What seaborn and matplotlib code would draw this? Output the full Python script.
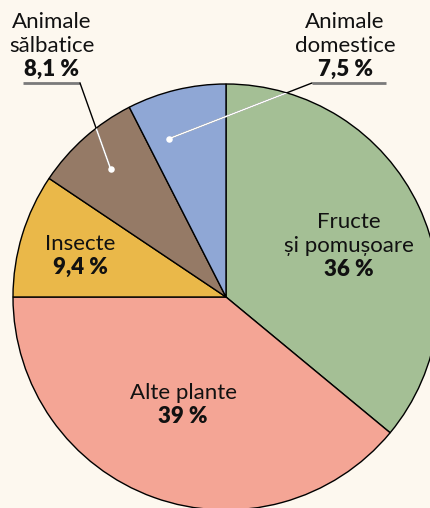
import numpy as np
import matplotlib
matplotlib.use("Agg")
import matplotlib.pyplot as plt
import seaborn as sns
from matplotlib.patches import Circle

# Diet composition shares (percent), clockwise from 12 o'clock
categories = ["Fructe\nși pomușoare", "Alte plante", "Insecte",
              "Animale\nsălbatice", "Animale\ndomestice"]
values = [36, 39, 9.4, 8.1, 7.5]
value_labels = ["36 %", "39 %", "9,4 %", "8,1 %", "7,5 %"]
colors = ["#A4BF95", "#F4A595", "#EAB849", "#957A66", "#8FA7D5"]

BG = "#FDF8EF"
W, H = 430, 508

sns.set_theme(style="white")
plt.rcParams["font.family"] = ["Lato", "DejaVu Sans"]

fig = plt.figure(figsize=(W / 100, H / 100), dpi=100, facecolor=BG)
ax = fig.add_axes([0, 0, 1, 1])
ax.set_facecolor(BG)

cx, cy, R = 226, H - 297, 213
wedges, _ = ax.pie(values, colors=colors, startangle=90, counterclock=False,
                   center=(cx, cy), radius=R,
                   wedgeprops=dict(edgecolor="black", linewidth=1.0))
ax.set_xlim(0, W)
ax.set_ylim(0, H)
ax.set_aspect("auto")
ax.axis("off")

FS = 16

def two_line(x, y, name, val, gap=24):
    lines = name.split("\n")
    for i, ln in enumerate(lines):
        ax.text(x, y - i * gap, ln, ha="center", va="baseline", fontsize=FS, color="#111111")
    ax.text(x, y - len(lines) * gap, val, ha="center", va="baseline",
            fontsize=FS, fontweight="heavy", color="#111111")

# inside labels (baseline positions)
two_line(349, H - 228, categories[0], value_labels[0])
two_line(183, H - 399, categories[1], value_labels[1])
two_line(80, H - 250, categories[2], value_labels[2])
# outside labels
two_line(52, H - 28, categories[3], value_labels[3])
two_line(345, H - 28, categories[4], value_labels[4])

# leader lines: underline, then a connector into the slice ending in a white dot
leaders = [
    # (underline x0, x1, anchor x, angle deg, radius fraction)
    (23, 80, 80, 132.0, 0.81),
    (312, 386, 312, 109.7, 0.79),
]
uy = H - 83
for x0, x1, ax_x, ang, frac in leaders:
    ax.plot([x0, x1], [uy, uy], color="#7A7A7A", lw=2.0, solid_capstyle="butt", zorder=5)
    t = np.deg2rad(ang)
    dx, dy = cx + frac * R * np.cos(t), cy + frac * R * np.sin(t)
    ax.plot([ax_x, dx], [uy, dy], color="black", lw=1.0, zorder=5)
    ln, = ax.plot([ax_x, dx], [uy, dy], color="white", lw=1.2, zorder=6)
    ln.set_clip_path(Circle((cx, cy), R - 0.5, transform=ax.transData))
    ax.scatter([dx], [dy], s=22, color="white", zorder=7, linewidths=0)

fig.savefig("out.png", dpi=100, facecolor=BG)
